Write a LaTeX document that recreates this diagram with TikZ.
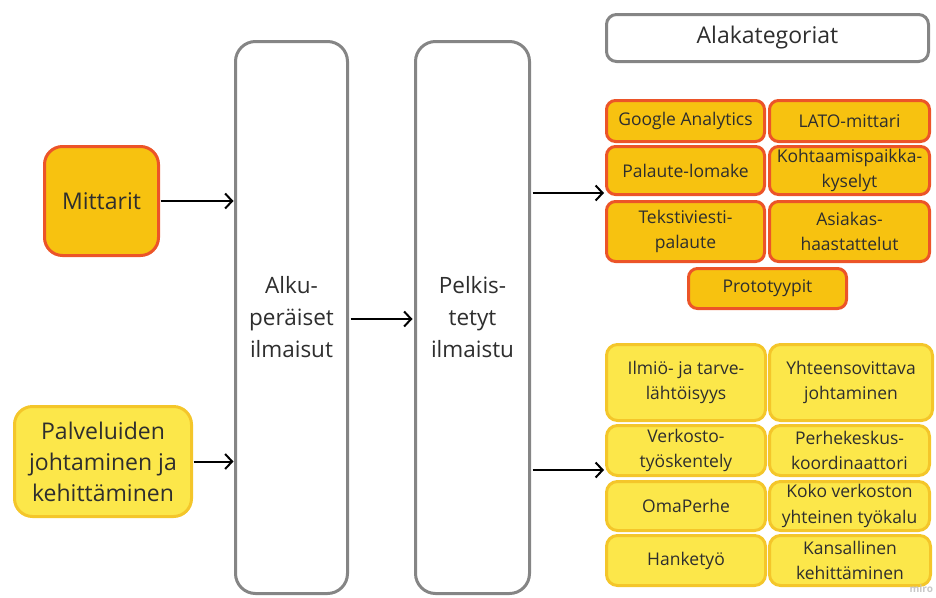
\documentclass[tikz,border=0pt]{standalone}
\usepackage{fontspec}
\setmainfont{Open Sans}
\usetikzlibrary{arrows.meta}
\definecolor{txt}{HTML}{2E2E2E}
\definecolor{frame}{HTML}{858585}
\definecolor{ofill}{HTML}{F7C210}
\definecolor{oline}{HTML}{EC5428}
\definecolor{yfill}{HTML}{FCE74A}
\definecolor{yline}{HTML}{F4C62A}
\tikzset{
  x=1pt, y=-1pt,
  every node/.style={text=txt, align=center, inner sep=0pt, outer sep=0pt},
  bigbox/.style={draw=frame, line width=3pt, fill=white, rounded corners=20pt,
    font=\fontsize{22.5}{32}\selectfont},
  headbox/.style={draw=frame, line width=3pt, fill=white, rounded corners=10pt,
    font=\fontsize{23}{26}\selectfont},
  obox/.style={draw=oline, fill=ofill, line width=3pt, rounded corners=9pt,
    font=\fontsize{17.5}{25}\selectfont},
  ybox/.style={draw=yline, fill=yfill, line width=3pt, rounded corners=11pt,
    font=\fontsize{17.5}{25.5}\selectfont},
  srcbox/.style={line width=3pt, rounded corners=18pt,
    font=\fontsize{23}{31}\selectfont},
  flow/.style={line width=2pt, -{Straight Barb[length=7pt, width=15pt, line width=2pt]}},
}
\newcommand{\boxat}[6]{% style, name, x, y, w, h
  \node[#1, minimum width=#5pt-3pt, minimum height=#6pt-3pt] (#2) at (#3,#4)}
\begin{document}
\begin{tikzpicture}
\useasboundingbox (0,0) rectangle (936,597);

% source boxes on the left
\boxat{srcbox, draw=oline, fill=ofill}{mittarit}{101.5}{201}{117}{112} {Mittarit};
\boxat{srcbox, draw=yline, fill=yfill}{palvelut}{103}{461.5}{180}{113}
  {Palveluiden\\johtaminen ja\\kehittäminen};

% the two tall stages
\boxat{bigbox}{alku}{291.5}{317.5}{115}{555} {Alku-\\peräiset\\ilmaisut};
\boxat{bigbox}{pelkis}{472.5}{317.5}{117}{555} {Pelkis-\\tetyt\\ilmaistu};

% heading of the subcategory column
\boxat{headbox}{otsikko}{767.5}{38}{325}{50} {Alakategoriat};

% measurement subcategories
\boxat{obox}{ga}{685.5}{121}{161}{44} {Google Analytics};
\boxat{obox}{lato}{849.5}{121}{163}{44} {LATO-mittari};
\boxat{obox}{lomake}{685.5}{170.5}{161}{51} {Palaute-lomake};
\boxat{obox}{kohtaamis}{849.5}{170.5}{163}{51} {Kohtaamispaikka-\\kyselyt};
\boxat{obox}{teksti}{685.5}{231.5}{161}{63} {Tekstiviesti-\\palaute};
\boxat{obox}{asiakas}{849.5}{231.5}{163}{63} {Asiakas-\\haastattelut};
\boxat{obox}{proto}{767.5}{288.5}{161}{43} {Prototyypit};

% management and development subcategories
\boxat{ybox}{ilmio}{686}{382.5}{162}{79} {Ilmiö- ja tarve-\\lähtöisyys};
\boxat{ybox}{yhteen}{851}{382.5}{166}{79} {Yhteensovittava\\johtaminen};
\boxat{ybox}{verkosto}{686}{450.5}{162}{53} {Verkosto-\\työskentely};
\boxat{ybox}{perhe}{849.5}{450.5}{163}{53} {Perhekeskus-\\koordinaattori};
\boxat{ybox}{oma}{686}{506}{162}{52} {OmaPerhe};
\boxat{ybox}{koko}{849.5}{506}{163}{52} {Koko verkoston\\yhteinen työkalu};
\boxat{ybox}{hanke}{686}{560.5}{162}{53} {Hanketyö};
\boxat{ybox}{kansallinen}{850}{560.5}{164}{53} {Kansallinen\\kehittäminen};

% arrow targets at the left edge of each subcategory group
\coordinate (ogroup) at (604,193);
\coordinate (ygroup) at (604,470);

% flow arrows
\draw[flow] ([xshift=2pt]mittarit.east) -- ([xshift=-2pt]mittarit.east -| alku.west);
\draw[flow] ([xshift=2pt]palvelut.east) -- ([xshift=-2pt]palvelut.east -| alku.west);
\draw[flow] ([xshift=3pt]alku.east |- 0,319) -- ([xshift=-3pt]pelkis.west |- 0,319);
\draw[flow] ([xshift=3pt]pelkis.east |- ogroup) -- (ogroup);
\draw[flow] ([xshift=3pt]pelkis.east |- ygroup) -- (ygroup);

% editor mark
\node[text=black!22, font=\fontsize{10}{10}\selectfont\bfseries, anchor=south east] (miro) at (933,593) {miro};
\end{tikzpicture}
\end{document}
